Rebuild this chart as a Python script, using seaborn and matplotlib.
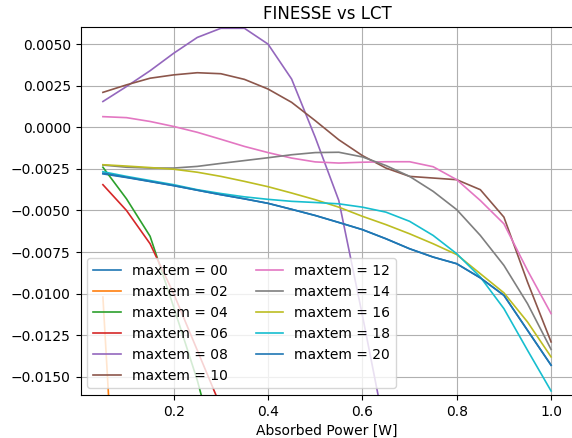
import numpy as np
import pandas as pd
import matplotlib
matplotlib.use('Agg')
import matplotlib.pyplot as plt
import seaborn as sns

# Absorbed power [W]
power = [0.05, 0.10, 0.15, 0.20, 0.25, 0.30, 0.35, 0.40, 0.45, 0.50,
         0.55, 0.60, 0.65, 0.70, 0.75, 0.80, 0.85, 0.90, 0.95, 1.00]

# FINESSE - LCT difference (x1e-3)
m00 = [-2.80, -3.02, -3.26, -3.51, -3.78, -4.05, -4.30, -4.57, -4.93, -5.30,
       -5.72, -6.15, -6.70, -7.30, -7.80, -8.20, -9.05, -10.1, -12.2, -14.3]
m02 = [-10.2, -35.0]
m04 = [-2.40, -4.30, -6.55, -10.8, -15.2, -20.5]
m06 = [-3.45, -5.00, -7.00, -10.0, -13.4, -16.8]
m08 = [1.55, 2.45, 3.40, 4.45, 5.40, 5.95, 5.95, 5.00, 2.90, -0.60,
       -4.40, -11.3, -18.5]
m10 = [2.10, 2.55, 2.95, 3.15, 3.28, 3.22, 2.88, 2.30, 1.50, 0.40,
       -0.75, -1.70, -2.45, -2.95, -3.05, -3.15, -3.75, -5.40, -9.30, -12.9]
m12 = [0.64, 0.58, 0.35, 0.05, -0.30, -0.72, -1.15, -1.52, -1.85, -2.08,
       -2.15, -2.10, -2.07, -2.07, -2.37, -3.15, -4.40, -5.80, -8.60, -11.2]
m14 = [-2.27, -2.40, -2.45, -2.45, -2.35, -2.17, -2.00, -1.83, -1.65, -1.52,
       -1.50, -1.78, -2.30, -2.95, -3.85, -4.95, -6.50, -8.30, -10.6, -13.35]
m16 = [-2.25, -2.33, -2.42, -2.52, -2.70, -2.95, -3.25, -3.57, -3.95, -4.35,
       -4.80, -5.35, -5.85, -6.40, -7.00, -7.65, -8.80, -9.95, -11.7, -13.8]
m18 = [-2.67, -2.95, -3.20, -3.45, -3.75, -3.98, -4.18, -4.33, -4.45, -4.52,
       -4.60, -4.80, -5.10, -5.65, -6.50, -7.60, -9.00, -10.9, -13.4, -15.85]
m20 = [-2.76, -3.00, -3.25, -3.50, -3.78, -4.05, -4.30, -4.57, -4.93, -5.30,
       -5.72, -6.15, -6.70, -7.30, -7.80, -8.20, -9.05, -10.1, -12.2, -14.3]

labels = ['00', '02', '04', '06', '08', '10', '12', '14', '16', '18', '20']
series = [m00, m02, m04, m06, m08, m10, m12, m14, m16, m18, m20]

rows = []
for lab, vals in zip(labels, series):
    for p, v in zip(power, vals):
        rows.append({'power': p, 'diff': v * 1e-3, 'maxtem': f'maxtem = {lab}'})
df = pd.DataFrame(rows)

colors = sns.color_palette('tab10', 10)

fig = plt.figure(figsize=(5.72, 4.38), dpi=100)
ax = fig.add_axes([80.5 / 572, 43 / 438, 493 / 572, 367.7 / 438])

for i, lab in enumerate(labels):
    sub = df[df['maxtem'] == f'maxtem = {lab}']
    sns.lineplot(data=sub, x='power', y='diff', color=colors[i % 10],
                 label=f'maxtem = {lab}', linewidth=1.2, ax=ax)

ax.set_xlim(0.0025, 1.0475)
ax.set_ylim(-0.01609, 0.00601)
ax.set_xticks([0.2, 0.4, 0.6, 0.8, 1.0])
ax.set_yticks([-0.015, -0.0125, -0.01, -0.0075, -0.005, -0.0025, 0.0, 0.0025, 0.005])
ax.grid(True)
ax.spines['right'].set_visible(False)  # cropped off in the original
ax.set_title('FINESSE vs LCT')
ax.set_xlabel('Absorbed Power [W]')
ax.set_ylabel('')
ax.legend(ncol=2, loc='lower left')

plt.savefig('out.png', dpi=100)
